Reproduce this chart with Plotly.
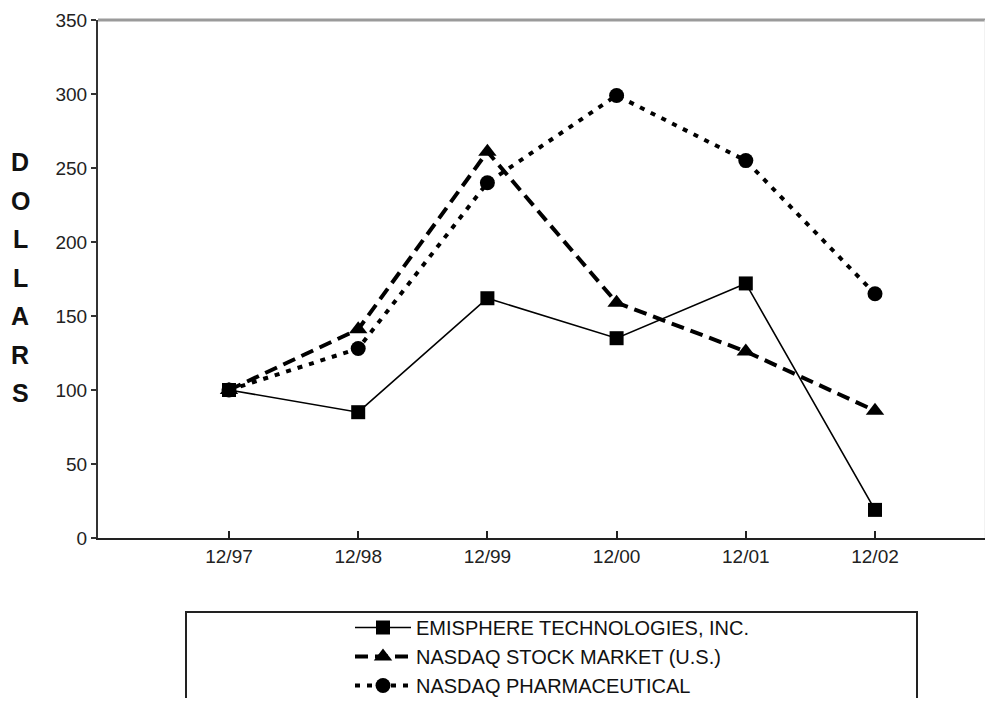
import plotly.graph_objects as go

categories = ["12/97", "12/98", "12/99", "12/00", "12/01", "12/02"]
emisphere = [100, 85, 162, 135, 172, 19]
nasdaq_market = [100, 141, 261, 159, 126, 86]
nasdaq_pharma = [100, 128, 240, 299, 255, 165]
y_ticks = [0, 50, 100, 150, 200, 250, 300, 350]
y_title = "DOLLARS"

xs = list(range(len(categories)))
FONT = "Liberation Sans, Arial, sans-serif"

# the page adds an 8px body margin, so the figure is 16px smaller than the window
PLOT_L, PLOT_R, PLOT_T, PLOT_B = 98, 985, 20, 538   # page pixels
PW, PH = PLOT_R - PLOT_L, PLOT_B - PLOT_T


def px_x(p):
    return (p - PLOT_L) / PW


def px_y(p):
    return (PLOT_B - p) / PH


fig = go.Figure()
fig.add_trace(go.Scatter(
    x=xs, y=emisphere, name="EMISPHERE TECHNOLOGIES, INC.", legendgroup="a",
    mode="lines+markers", line=dict(color="black", width=1.6),
    marker=dict(symbol="square", size=14, color="black")))
fig.add_trace(go.Scatter(
    x=xs, y=nasdaq_market, name="NASDAQ STOCK MARKET (U.S.)", legendgroup="b",
    mode="lines+markers", line=dict(color="black", width=4, dash="13px,7px"),
    marker=dict(symbol="triangle-up", size=16, color="black")))
fig.add_trace(go.Scatter(
    x=xs, y=nasdaq_pharma, name="NASDAQ PHARMACEUTICAL", legendgroup="c",
    mode="lines+markers", line=dict(color="black", width=4, dash="5px,7px"),
    marker=dict(symbol="circle", size=15, color="black")))

# stacked vertical axis title
for i, ch in enumerate(y_title):
    fig.add_annotation(
        text=ch, xref="paper", yref="paper", showarrow=False,
        x=px_x(20), y=px_y(162 + 38.5 * i),
        xanchor="center", yanchor="middle",
        font=dict(family=FONT, size=25, color="#111", weight="bold"))

fig.update_layout(
    width=977, height=690,
    margin=dict(l=PLOT_L - 8, r=0, t=PLOT_T - 8, b=690 - (PLOT_B - 8),
                autoexpand=False),
    paper_bgcolor="white", plot_bgcolor="white",
    font=dict(family=FONT, color="#222"),
    showlegend=True,
    legend=dict(
        x=px_x(350), y=px_y(608), xanchor="left", yanchor="top",
        font=dict(family=FONT, size=20, color="#111"),
        bgcolor="rgba(0,0,0,0)", borderwidth=0, tracegroupgap=0,
        itemwidth=56),
    xaxis=dict(
        range=[-(229 - PLOT_L) / 129.2, (PLOT_R - 229) / 129.2],
        tickmode="array", tickvals=xs, ticktext=categories,
        showgrid=False, zeroline=False, showline=True, linecolor="#222", linewidth=2,
        ticks="inside", ticklen=7, tickwidth=1.5, tickcolor="#222",
        tickfont=dict(family=FONT, size=19, color="#222")),
    yaxis=dict(
        range=[0, 350], tickmode="array", tickvals=y_ticks,
        showgrid=False, zeroline=False, showline=True, linecolor="#333", linewidth=2,
        ticks="outside", ticklen=5, tickwidth=1.5, tickcolor="#333",
        tickfont=dict(family=FONT, size=19, color="#222")),
    shapes=[
        dict(type="line", xref="paper", yref="paper", x0=0, x1=1, y0=1, y1=1,
             line=dict(color="#9a9a9a", width=3)),
        dict(type="line", xref="paper", yref="paper", x0=1, x1=1, y0=0, y1=1,
             line=dict(color="#e4e4e4", width=1)),
        dict(type="rect", xref="paper", yref="paper",
             x0=px_x(186), x1=px_x(917), y0=px_y(740), y1=px_y(612),
             line=dict(color="#222", width=2), fillcolor="rgba(0,0,0,0)"),
    ],
)

fig.write_html("out.html")
